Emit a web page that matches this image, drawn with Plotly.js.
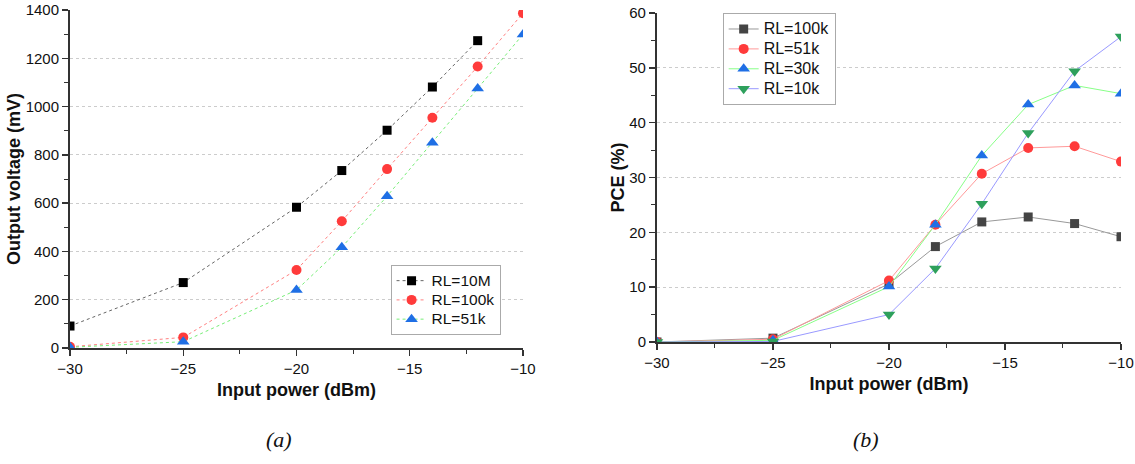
<!DOCTYPE html>
<html>
<head>
<meta charset="utf-8">
<script src="https://cdn.plot.ly/plotly-3.0.1.min.js"></script>
<style>html,body{margin:0;padding:0;background:#fff;}#chart{width:1135px;height:464px;}</style>
</head>
<body>
<div id="chart"></div>
<script>
// ---- data ----
const inputPower = [-30, -25, -20, -18, -16, -14, -12, -10];
const inputPower10M = [-30, -25, -20, -18, -16, -14, -12];

// (a) output voltage (mV)
const vout_RL10M  = [91, 271, 583, 735, 902, 1081, 1273];
const vout_RL100k = [5, 44, 323, 525, 741, 954, 1166, 1387];
const vout_RL51k  = [3, 26, 240, 417, 629, 850, 1075, 1299];

// (b) PCE (%)
const pce_RL100k = [0, 0.7, 10.6, 17.4, 21.9, 22.8, 21.6, 19.2];
const pce_RL51k  = [0, 0.5, 11.2, 21.4, 30.7, 35.4, 35.7, 32.9];
const pce_RL30k  = [0, 0.3, 10.1, 21.4, 34.0, 43.3, 46.8, 45.3];
const pce_RL10k  = [0, 0.1, 5.0, 13.4, 25.2, 38.1, 49.4, 55.7];

const namesA = ['RL=10M', 'RL=100k', 'RL=51k'];
const namesB = ['RL=100k', 'RL=51k', 'RL=30k', 'RL=10k'];

// legend label styling (bigger glyphs, compact rows)
const lbl = (s, px) => '<span style="font-size:' + px + 'px">' + s + '</span>';

const traces = [
  {x: inputPower10M, y: vout_RL10M, name: lbl(namesA[0], 15.5), mode: 'lines+markers', xaxis: 'x', yaxis: 'y', legend: 'legend',
   line: {color: '#666666', width: 1, dash: 'dot'}, marker: {symbol: 'square', size: 9, color: '#000000'}},
  {x: inputPower, y: vout_RL100k, name: lbl(namesA[1], 15.5), mode: 'lines+markers', xaxis: 'x', yaxis: 'y', legend: 'legend',
   line: {color: '#ff8080', width: 1, dash: 'dot'}, marker: {symbol: 'circle', size: 10, color: '#ff3b3b'}},
  {x: inputPower, y: vout_RL51k, name: lbl(namesA[2], 15.5), mode: 'lines+markers', xaxis: 'x', yaxis: 'y', legend: 'legend',
   line: {color: '#77ee77', width: 1, dash: 'dot'}, marker: {symbol: 'triangle-up', size: 11, color: '#1f6fe5'}},

  {x: inputPower, y: pce_RL100k, name: lbl(namesB[0], 16), mode: 'lines+markers', xaxis: 'x2', yaxis: 'y2', legend: 'legend2',
   line: {color: '#999999', width: 1}, marker: {symbol: 'square', size: 9, color: '#444444'}},
  {x: inputPower, y: pce_RL51k, name: lbl(namesB[1], 16), mode: 'lines+markers', xaxis: 'x2', yaxis: 'y2', legend: 'legend2',
   line: {color: '#ff9999', width: 1}, marker: {symbol: 'circle', size: 10, color: '#ff3b3b'}},
  {x: inputPower, y: pce_RL30k, name: lbl(namesB[2], 16), mode: 'lines+markers', xaxis: 'x2', yaxis: 'y2', legend: 'legend2',
   line: {color: '#88ff88', width: 1}, marker: {symbol: 'triangle-up', size: 11, color: '#1f6fe5'}},
  {x: inputPower, y: pce_RL10k, name: lbl(namesB[3], 16), mode: 'lines+markers', xaxis: 'x2', yaxis: 'y2', legend: 'legend2',
   line: {color: '#9999ff', width: 1}, marker: {symbol: 'triangle-down', size: 11, color: '#2ea05c'}}
];

const axFont = {family: 'Liberation Sans, Arial, sans-serif', size: 15, color: '#111'};
const titleFont = {family: 'Liberation Sans, Arial, sans-serif', size: 18, color: '#111', weight: 'bold'};

function xAxis(domain, anchor) {
  return {
    domain: domain, anchor: anchor, range: [-30, -10], dtick: 5, tick0: -30,
    showgrid: false, zeroline: false, showline: true, linecolor: '#333', linewidth: 2,
    ticks: 'outside', ticklen: 6, tickwidth: 1.5, tickcolor: '#333',
    minor: {dtick: 2.5, ticks: 'outside', ticklen: 4, tickwidth: 1, tickcolor: '#333', showgrid: false},
    tickfont: axFont,
    title: {text: '<b>Input power (dBm)</b>', font: titleFont, standoff: 7}
  };
}

const layout = {
  width: 1135, height: 464,
  paper_bgcolor: '#fff', plot_bgcolor: '#fff',
  margin: {l: 70, r: 14, t: 10, b: 116},
  showlegend: true,
  xaxis: xAxis([0, 0.431], 'y'),
  xaxis2: xAxis([0.5585, 1], 'y2'),
  yaxis: {
    domain: [0, 1], anchor: 'x', range: [0, 1400], dtick: 200,
    showgrid: true, gridcolor: '#cccccc', griddash: 'dot', gridwidth: 1,
    zeroline: false, showline: true, linecolor: '#333', linewidth: 2,
    ticks: 'outside', ticklen: 6, tickwidth: 1.5, tickcolor: '#333',
    minor: {dtick: 100, ticks: 'outside', ticklen: 4, tickwidth: 1, tickcolor: '#333', showgrid: false},
    tickfont: axFont,
    title: {text: '<b>Output voltage (mV)</b>', font: titleFont, standoff: 0}
  },
  yaxis2: {
    domain: [0.0178, 0.991], anchor: 'x2', range: [0, 60], dtick: 10,
    showgrid: true, gridcolor: '#cccccc', griddash: 'dot', gridwidth: 1,
    zeroline: false, showline: true, linecolor: '#333', linewidth: 2,
    ticks: 'outside', ticklen: 6, tickwidth: 1.5, tickcolor: '#333',
    minor: {dtick: 5, ticks: 'outside', ticklen: 4, tickwidth: 1, tickcolor: '#333', showgrid: false},
    tickfont: axFont,
    title: {text: '<b>PCE (%)</b>', font: titleFont, standoff: 0}
  },
  legend: {
    x: 0.305, y: 0.2455, xanchor: 'left', yanchor: 'top',
    bgcolor: '#fff', bordercolor: '#aaa', borderwidth: 1,
    font: {family: 'Liberation Sans, Arial, sans-serif', size: 12.5, color: '#111'},
    tracegroupgap: 0, itemwidth: 30
  },
  legend2: {
    x: 0.621, y: 0.991, xanchor: 'left', yanchor: 'top',
    bgcolor: '#fff', bordercolor: '#aaa', borderwidth: 1,
    font: {family: 'Liberation Sans, Arial, sans-serif', size: 13, color: '#111'},
    tracegroupgap: 0, itemwidth: 30
  },
  annotations: [
    {text: '<i>(a)</i>', xref: 'paper', yref: 'paper', x: 0.1985, y: -0.27, xanchor: 'center', yanchor: 'middle',
     showarrow: false, font: {family: 'Liberation Serif, Times New Roman, serif', size: 22, color: '#111'}},
    {text: '<i>(b)</i>', xref: 'paper', yref: 'paper', x: 0.7575, y: -0.27, xanchor: 'center', yanchor: 'middle',
     showarrow: false, font: {family: 'Liberation Serif, Times New Roman, serif', size: 22, color: '#111'}}
  ]
};

Plotly.newPlot('chart', traces, layout, {displayModeBar: false, staticPlot: true});
</script>
</body>
</html>
